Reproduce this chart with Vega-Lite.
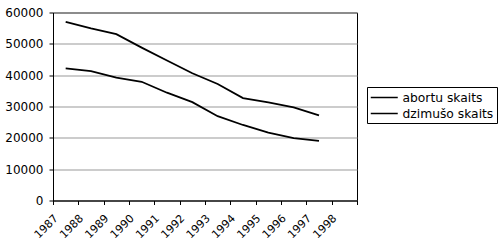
{
  "$schema": "https://vega.github.io/schema/vega-lite/v6.json",
  "width": 304,
  "height": 188,
  "autosize": {"type": "none"},
  "padding": {"left": 53, "top": 12.5, "right": 143, "bottom": 41.5},
  "background": "white",
  "config": {
    "view": {"stroke": "black", "strokeWidth": 1},
    "font": "DejaVu Sans",
    "axis": {"labelFont": "DejaVu Sans", "labelColor": "black", "domainColor": "black", "tickColor": "black", "tickSize": 4}
  },
  "data": {
    "values": [
      {"series": "abortu skaits", "year": 1987, "value": 57000},
      {"series": "abortu skaits", "year": 1988, "value": 54900},
      {"series": "abortu skaits", "year": 1989, "value": 53100},
      {"series": "abortu skaits", "year": 1990, "value": 48800},
      {"series": "abortu skaits", "year": 1991, "value": 44700},
      {"series": "abortu skaits", "year": 1992, "value": 40600},
      {"series": "abortu skaits", "year": 1993, "value": 37200},
      {"series": "abortu skaits", "year": 1994, "value": 32700},
      {"series": "abortu skaits", "year": 1995, "value": 31300},
      {"series": "abortu skaits", "year": 1996, "value": 29700},
      {"series": "abortu skaits", "year": 1997, "value": 27200},
      {"series": "dzimušo skaits", "year": 1987, "value": 42200},
      {"series": "dzimušo skaits", "year": 1988, "value": 41300},
      {"series": "dzimušo skaits", "year": 1989, "value": 39200},
      {"series": "dzimušo skaits", "year": 1990, "value": 37900},
      {"series": "dzimušo skaits", "year": 1991, "value": 34400},
      {"series": "dzimušo skaits", "year": 1992, "value": 31400},
      {"series": "dzimušo skaits", "year": 1993, "value": 26900},
      {"series": "dzimušo skaits", "year": 1994, "value": 24100},
      {"series": "dzimušo skaits", "year": 1995, "value": 21700},
      {"series": "dzimušo skaits", "year": 1996, "value": 19900},
      {"series": "dzimušo skaits", "year": 1997, "value": 19000}
    ]
  },
  "mark": {"type": "line", "strokeWidth": 1.8, "xOffset": 12.67},
  "encoding": {
    "x": {
      "field": "year",
      "type": "quantitative",
      "scale": {"domain": [1987, 1999], "nice": false, "zero": false},
      "axis": {
        "title": null,
        "values": [1987, 1988, 1989, 1990, 1991, 1992, 1993, 1994, 1995, 1996, 1997, 1998, 1999],
        "format": "d",
        "labelExpr": "datum.value == 1999 ? '' : datum.label",
        "labelFontSize": 11,
        "labelAngle": -45,
        "labelAlign": "right",
        "labelBaseline": "middle",
        "labelPadding": 12,
        "labelOffset": 3,
        "grid": false,
        "labelOverlap": false,
        "labelBound": false
      }
    },
    "y": {
      "field": "value",
      "type": "quantitative",
      "scale": {"domain": [0, 60000], "nice": false},
      "axis": {
        "title": null,
        "values": [0, 10000, 20000, 30000, 40000, 50000, 60000],
        "format": "d",
        "labelFontSize": 12,
        "grid": true,
        "gridColor": "#999999",
        "labelPadding": 6
      }
    },
    "color": {
      "field": "series",
      "type": "nominal",
      "scale": {"domain": ["abortu skaits", "dzimušo skaits"], "range": ["black", "black"]},
      "legend": {
        "title": null,
        "orient": "none",
        "legendX": 314,
        "legendY": 74.5,
        "strokeColor": "black",
        "padding": 3,
        "symbolType": "M-1,0H3",
        "symbolSize": 182.25,
        "symbolStrokeWidth": 1.5,
        "labelFont": "DejaVu Sans",
        "labelFontSize": 12.3,
        "labelColor": "black",
        "labelOffset": 17.5,
        "rowPadding": 2
      }
    }
  }
}
